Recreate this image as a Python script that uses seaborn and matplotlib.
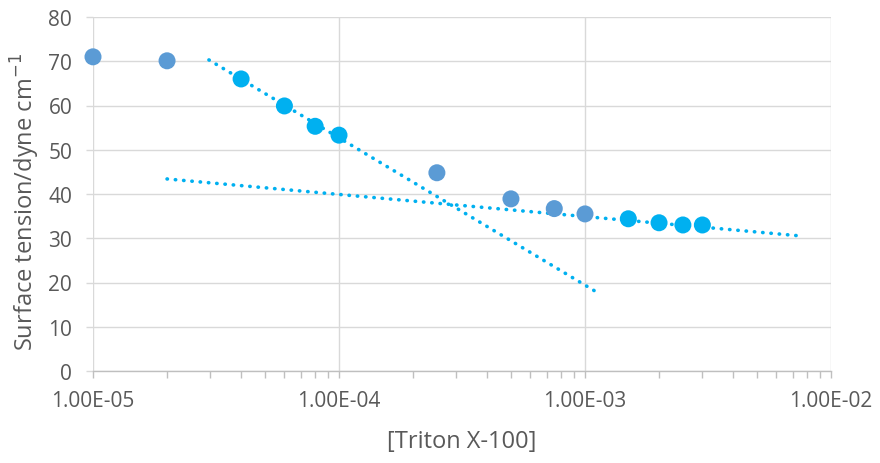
import matplotlib
matplotlib.use("Agg")
import matplotlib.pyplot as plt
import matplotlib.ticker as mticker
import seaborn as sns
import pandas as pd
import numpy as np

# ---- data ----
conc = [1e-5, 2e-5, 4e-5, 6e-5, 8e-5, 1e-4, 2.5e-4, 5e-4, 7.5e-4, 1e-3,
        1.5e-3, 2e-3, 2.5e-3, 3e-3]
tension = [71.0, 70.1, 66.0, 59.9, 55.3, 53.3, 44.8, 38.9, 36.7, 35.5,
           34.4, 33.5, 33.0, 33.0]
group = ["other", "other", "fit", "fit", "fit", "fit", "other", "other",
         "other", "other", "fit", "fit", "fit", "fit"]

steep_x = [2.96e-5, 1.11e-3]
steep_y = [70.3, 17.9]
flat_x = [2.0e-5, 7.6e-3]
flat_y = [43.4, 30.5]

xticks = [1e-5, 1e-4, 1e-3, 1e-2]
xtick_labels = ["1.00E-05", "1.00E-04", "1.00E-03", "1.00E-02"]
yticks = [0, 10, 20, 30, 40, 50, 60, 70, 80]

df = pd.DataFrame({"conc": conc, "tension": tension, "group": group})

sns.set_theme(style="white")
plt.rcParams["font.family"] = ["Open Sans", "DejaVu Sans"]

fig = plt.figure(figsize=(8.8, 4.64), dpi=100)
ax = fig.add_axes([93 / 880, 1 - 372 / 464, (831 - 93) / 880, (372 - 18) / 464])

line_color = "#00B0F0"
dot_style = (0, (0.1, 2.2))
for xs, ys in [(steep_x, steep_y), (flat_x, flat_y)]:
    sns.lineplot(x=xs, y=ys, ax=ax, color=line_color, linewidth=2.6,
                 linestyle=dot_style, dash_capstyle="round", zorder=2)

sns.scatterplot(data=df, x="conc", y="tension", hue="group",
                palette={"other": "#5B9BD5", "fit": "#00B0F0"},
                s=150, edgecolor="none", legend=False, ax=ax, zorder=3,
                clip_on=False)

ax.set_xscale("log")
ax.set_xlim(1e-5, 1e-2)
ax.set_ylim(0, 80)
ax.set_xticks(xticks)
ax.set_xticklabels(xtick_labels)
ax.xaxis.set_minor_locator(mticker.LogLocator(base=10, subs=np.arange(2, 10)))
ax.xaxis.set_minor_formatter(mticker.NullFormatter())
ax.set_yticks(yticks)

ax.grid(True, which="major", color="#D9D9D9", linewidth=1)
ax.set_axisbelow(True)
for s in ["top", "right", "left"]:
    ax.spines[s].set_visible(False)
ax.spines["bottom"].set_color("#BFBFBF")
ax.spines["bottom"].set_linewidth(1)

ax.tick_params(axis="x", which="both", direction="out", colors="#BFBFBF",
               labelcolor="#595959", labelsize=15, bottom=True, length=5,
               width=1, pad=9)
ax.tick_params(axis="x", which="minor", length=5)
ax.tick_params(axis="y", direction="out", colors="#D9D9D9",
               labelcolor="#595959", labelsize=15, left=True, length=5,
               width=1, pad=10)

ax.set_xlabel("[Triton X-100]", fontsize=17, color="#595959", va="center")
ax.xaxis.set_label_coords(0.5, (372 - 442) / 354)
ax.set_ylabel("Surface tension/dyne cm$^{-1}$", fontsize=17, color="#595959",
              va="center", ha="center")
ax.yaxis.set_label_coords((25 - 93) / 738, 0.48)

fig.savefig("out.png", dpi=100)
